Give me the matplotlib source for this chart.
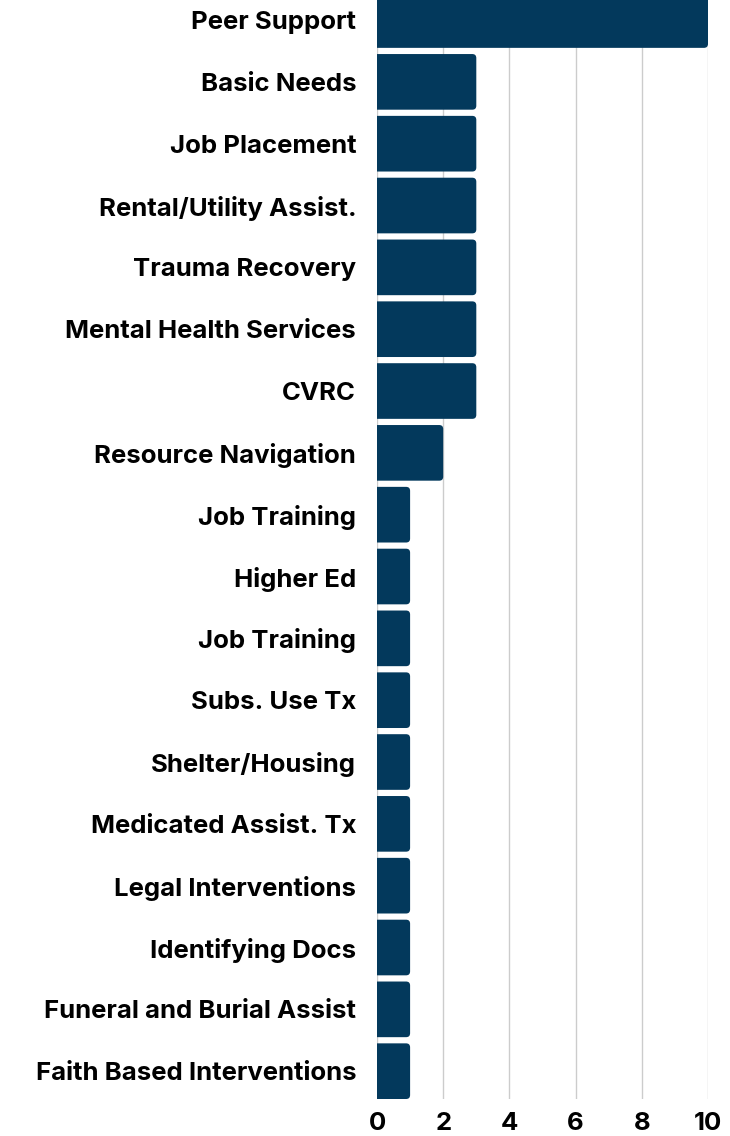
import matplotlib
matplotlib.use("Agg")
import matplotlib.pyplot as plt
from matplotlib.patches import FancyBboxPatch

# services, top to bottom as they appear in the chart
services = [
    "Peer Support", "Basic Needs", "Job Placement", "Rental/Utility Assist.",
    "Trauma Recovery", "Mental Health Services", "CVRC", "Resource Navigation",
    "Job Training", "Higher Ed", "Job Training", "Subs. Use Tx",
    "Shelter/Housing", "Medicated Assist. Tx", "Legal Interventions",
    "Identifying Docs", "Funeral and Burial Assist", "Faith Based Interventions",
]
counts = [10, 3, 3, 3, 3, 3, 3, 2, 1, 1, 1, 1, 1, 1, 1, 1, 1, 1]
xticks = [0, 2, 4, 6, 8, 10]

bar_color = "#03395C"
plt.rcParams["font.family"] = ["Inter", "DejaVu Sans"]

fig = plt.figure(figsize=(7.30, 11.36), dpi=100)
ax = fig.add_axes([377 / 730, 37 / 1136, 331 / 730, 1099 / 1136])

pos = list(range(len(services)))
bar_h = 0.9
# plain bars give the data extents, drawn as rounded boxes on top
bars = ax.barh(pos, counts, height=bar_h, color=bar_color, alpha=0)

# rounding radius in x units; aspect fixes y vs x scale
px_x = 331 / 10.0
px_y = 1098 / 17.774
rad = 4 / px_x
aspect = px_x / px_y
for b in bars:
    x0, y0 = b.get_x(), b.get_y()
    w, h = b.get_width(), b.get_height()
    box = FancyBboxPatch((x0 - 0.5, y0), w + 0.5, h,
                         boxstyle=f"round,pad=0,rounding_size={rad}",
                         mutation_aspect=aspect,
                         facecolor=bar_color, edgecolor="none", zorder=3)
    ax.add_patch(box)

ax.set_xlim(0, 10)
ax.set_ylim(17.45, -0.324)
ax.set_yticks(pos)
ax.set_yticklabels(services, fontsize=18.5, fontweight="bold")
ax.set_xticks(xticks)
ax.set_xticklabels([str(t) for t in xticks], fontsize=18.5, fontweight="bold")
ax.tick_params(axis="y", length=0, pad=15)
ax.tick_params(axis="x", length=0, pad=9)

ax.grid(axis="x", color="#cccccc", linewidth=1)
ax.set_axisbelow(True)
for s in ax.spines.values():
    s.set_visible(False)

fig.savefig("out.png", dpi=100)
